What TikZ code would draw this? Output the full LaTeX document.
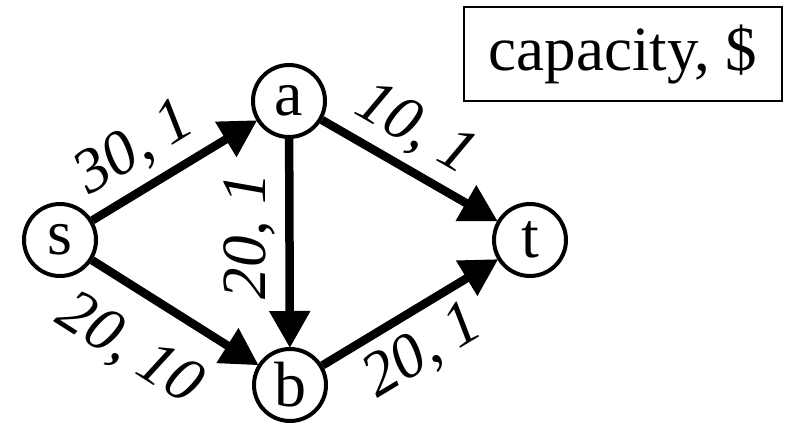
\documentclass[tikz,border=0pt]{standalone}
\usepackage{fontspec}
\setmainfont{Liberation Serif}
\usetikzlibrary{arrows.meta}
\tikzset{
  vertex/.style={circle, draw, line width=4pt, minimum size=72pt, inner sep=0pt, font=\fontsize{64}{64}\selectfont},
  flow/.style={line width=8.5pt, -{Triangle[length=37pt, width=39pt]}, shorten >=-1pt},
  lbl/.style={inner sep=0pt, font=\fontsize{63}{63}\selectfont\itshape},
  legend/.style={draw, line width=2pt, minimum width=318pt, minimum height=94pt, inner sep=0pt, font=\fontsize{63}{63}\selectfont}
}
\begin{document}
\begin{tikzpicture}[x=1pt,y=-1pt]
\useasboundingbox (0,0) rectangle (792,426);
\node[vertex] (s) at (60,240) {s};
\node[vertex] (a) at (289,101) {a};
\node[vertex] (b) at (290,385) {b};
\node[vertex] (t) at (530,240) {t};
\node[legend] (key) at (623,54) {capacity, \$};
\draw[flow] (s) -- (a);
\draw[flow] (s) -- (b);
\draw[flow] (a) -- (b);
\draw[flow] (a) -- (t);
\draw[flow] (b) -- (t);
\node[lbl, rotate=31.5] (l1) at (135,149) {30, 1};
\node[lbl, rotate=-30] (l2) at (415,130) {10, 1};
\node[lbl, rotate=90] (l3) at (249,236) {20, 1};
\node[lbl, rotate=-32.5] (l4) at (129,350) {20, 10};
\node[lbl, rotate=31] (l5) at (423,352) {20, 1};
\end{tikzpicture}
\end{document}
